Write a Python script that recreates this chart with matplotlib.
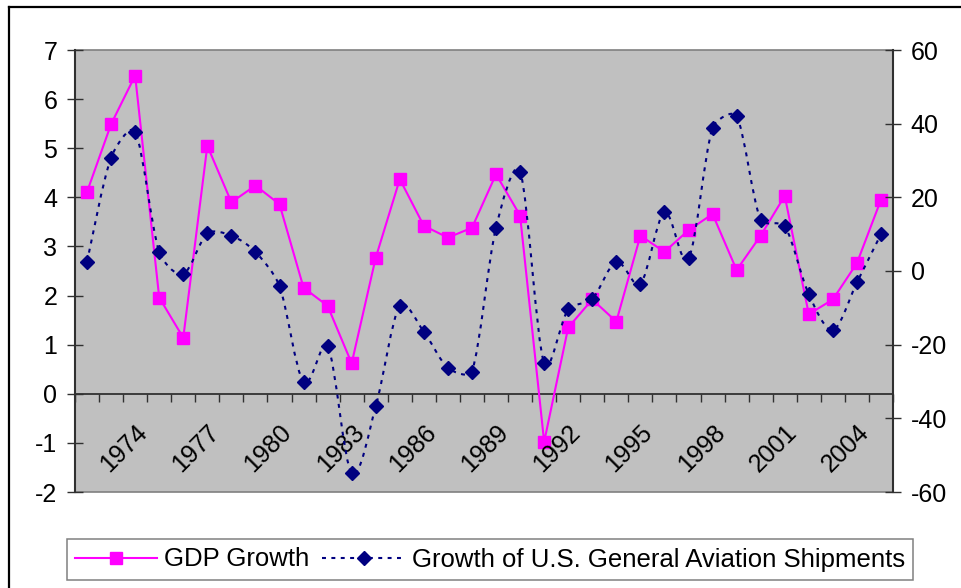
import numpy as np
import matplotlib
matplotlib.use('Agg')
import matplotlib.pyplot as plt
from matplotlib.lines import Line2D
from matplotlib.path import Path
from matplotlib.patches import PathPatch

plt.rcParams['font.family'] = ['Liberation Sans', 'DejaVu Sans']
plt.rcParams['axes.unicode_minus'] = False

years = list(range(1972, 2006))
gdp_growth = [4.11, 5.49, 6.48, 1.96, 1.14, 5.05, 3.90, 4.24, 3.86, 2.16, 1.79, 0.62, 2.77,
              4.37, 3.42, 3.18, 3.38, 4.47, 3.63, -0.98, 1.35, 1.92, 1.47, 3.22,
              2.89, 3.33, 3.66, 2.52, 3.22, 4.03, 1.62, 1.92, 2.66, 3.95]
ga_shipments = [2.5, 30.8, 37.8, 5.2, -0.8, 10.2, 9.6, 5.2, -4.1, -30.1, -20.3, -54.9, -36.7,
                -9.4, -16.5, -26.3, -27.3, 11.8, 27.0, -25.1, -10.4, -7.6, 2.5, -3.5,
                15.9, 3.4, 38.9, 42.1, 13.8, 12.2, -6.3, -16.0, -3.1, 10.0]
year_labels = years[2::3]
left_ticks = list(range(-2, 8))
right_ticks = list(range(-60, 61, 20))

PINK = '#FF00FF'
NAVY = '#000080'
AXIS = '#303030'
FS = 18


def smooth_path(axis, x, y):
    # excel style smoothed line, worked out in pixels, then back to data
    pts = axis.transData.transform(np.column_stack([x, y]))
    n = len(pts)
    verts = [pts[0]]
    codes = [Path.MOVETO]
    for i in range(n - 1):
        p0 = pts[max(i - 1, 0)]
        p1, p2 = pts[i], pts[i + 1]
        p3 = pts[min(i + 2, n - 1)]
        seg = np.hypot(*(p2 - p1))
        t1 = (p2 - p0) / 6
        t2 = (p3 - p1) / 6
        for t in (t1, t2):
            ln = np.hypot(*t)
            if ln > 0.3 * seg:
                t *= 0.3 * seg / ln
        verts += [p1 + t1, p2 - t2, p2]
        codes += [Path.CURVE4] * 3
    verts = axis.transData.inverted().transform(np.array(verts))
    return Path(verts, codes)


fig = plt.figure(figsize=(9.61, 5.88), dpi=100)
ax = fig.add_axes([75 / 961, 1 - 492 / 588, 818 / 961, 442 / 588])
ax.set_facecolor('#C0C0C0')
ax.patch.set_edgecolor('#808080')
ax.patch.set_linewidth(1.2)

x = np.arange(len(years))
ax.plot(x, gdp_growth, color=PINK, lw=1.5, marker='s', ms=9.3,
        mfc=PINK, mec=PINK, zorder=3)
ax.set_xlim(-0.5, len(years) - 0.5)
ax.set_ylim(-2, 7)
ax.set_yticks(left_ticks)
ax.set_xticks(np.arange(-0.5, len(years), 1.0))
ax.tick_params(axis='x', direction='out', length=5.8, width=1.0, color=AXIS,
               labelbottom=False)
ax.tick_params(axis='y', direction='inout', length=11.5, width=1.0, color=AXIS,
               labelsize=FS, pad=7)
ax.spines['bottom'].set_position(('data', 0))
ax.spines['bottom'].set_color(AXIS)
ax.spines['bottom'].set_linewidth(1.3)
ax.spines['left'].set_color(AXIS)
ax.spines['left'].set_linewidth(1.5)
ax.spines['top'].set_visible(False)
ax.spines['right'].set_visible(False)

for yr in year_labels:
    ax.annotate(str(yr), xy=(years.index(yr), 0), xycoords='data',
                xytext=(0, -19), textcoords='offset points',
                rotation=45, rotation_mode='anchor', ha='right', va='top',
                fontsize=FS)

ax2 = ax.twinx()
ax2.set_ylim(-60, 60)
ax2.set_yticks(right_ticks)
ax2.tick_params(axis='y', direction='inout', length=11.5, width=1.0, color=AXIS,
                labelsize=FS, pad=7)
for s in ['top', 'bottom', 'left']:
    ax2.spines[s].set_visible(False)
ax2.spines['right'].set_color(AXIS)
ax2.spines['right'].set_linewidth(1.5)

dash = (0, (1.9, 2.6))
ax2.add_patch(PathPatch(smooth_path(ax2, x, ga_shipments), fill=False, edgecolor=NAVY,
                        lw=1.5, linestyle=dash, zorder=3))
ax2.plot(x, ga_shipments, linestyle='none', marker='D', ms=6.8,
         mfc=NAVY, mec=NAVY, zorder=4)

handles = [
    Line2D([], [], color=PINK, lw=1.5, marker='s', ms=9.3, mfc=PINK, mec=PINK),
    Line2D([], [], color=NAVY, lw=1.5, linestyle=dash, marker='D', ms=6.8,
           mfc=NAVY, mec=NAVY),
]
leg = fig.legend(handles, ['GDP Growth', 'Growth of U.S. General Aviation Shipments'],
                 loc='center', bbox_to_anchor=(490 / 961, 1 - 559.5 / 588), ncol=2,
                 fontsize=18.5, frameon=True, fancybox=False, framealpha=1,
                 edgecolor='#808080', handlelength=3.2, handletextpad=0.28,
                 columnspacing=0.5, borderpad=0.32, numpoints=1)
leg.get_frame().set_linewidth(1.1)

# chart area frame, cut off at right and bottom
fig.add_artist(Line2D([8.5 / 961, 1.0], [1 - 7 / 588, 1 - 7 / 588],
                      color='black', lw=1.6, transform=fig.transFigure))
fig.add_artist(Line2D([8.5 / 961, 8.5 / 961], [0.0, 1 - 7 / 588],
                      color='black', lw=1.6, transform=fig.transFigure))

fig.savefig('out.png', dpi=100)
